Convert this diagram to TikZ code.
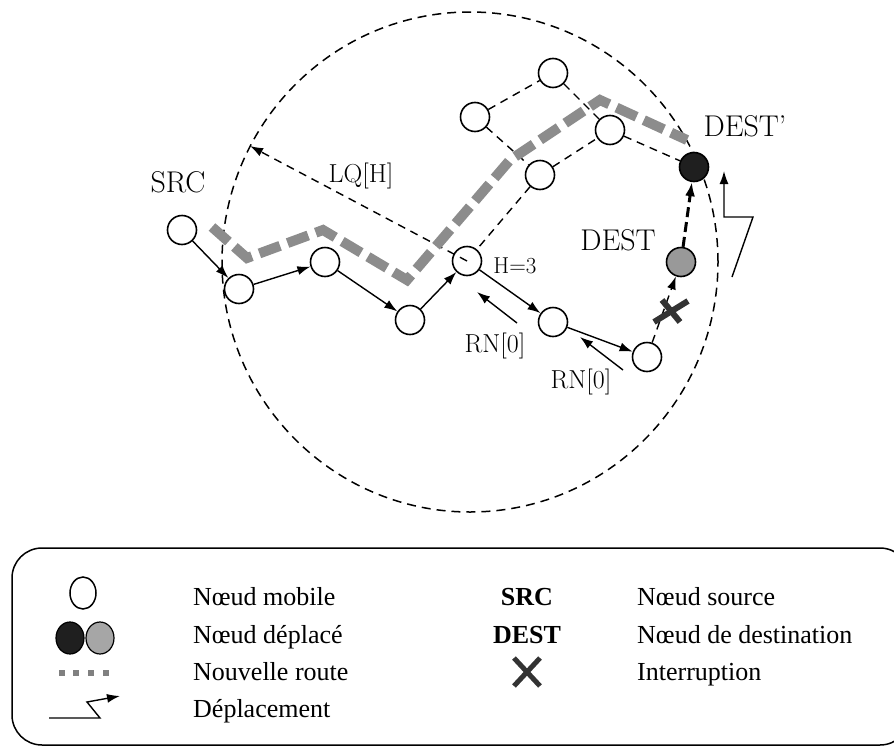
\documentclass[tikz,border=0pt]{standalone}
\usepackage{fontspec}
\newfontfamily\legendfont{Liberation Serif}
\usetikzlibrary{arrows.meta}
\begin{document}
\begin{tikzpicture}[x=1pt,y=-1pt,
  mnode/.style={circle, draw, line width=1.6pt, fill=white, minimum size=29pt, inner sep=0pt},
  movedblack/.style={mnode, fill=black!88},
  movedgray/.style={mnode, fill=black!40},
  routelink/.style={line width=1.4pt, -{Latex[length=13pt,width=9pt]}},
  hoplink/.style={line width=1.4pt, dash pattern=on 8pt off 6pt},
  rangeline/.style={line width=1.5pt, dash pattern=on 9pt off 6pt},
  newroute/.style={line width=10pt, draw=black!45, dash pattern=on 22pt off 8pt},
  bigtxt/.style={font=\fontsize{30}{36}\selectfont, inner sep=0pt},
  midtxt/.style={font=\fontsize{26}{31}\selectfont, inner sep=0pt},
  smalltxt/.style={font=\fontsize{23}{28}\selectfont, inner sep=0pt},
  legtxt/.style={font=\legendfont\fontsize{26}{31}\selectfont, anchor=base west, inner sep=0pt},
  legsym/.style={font=\legendfont\bfseries\fontsize{26}{31}\selectfont, anchor=base, inner sep=0pt},
  crossmark/.style={line width=6pt, draw=black!80},
  movearrow/.style={line width=1.4pt, -{Latex[length=13pt,width=9pt]}}
]
\useasboundingbox (0,0) rectangle (894,747);

% radio range
\draw[rangeline] (470,262) ellipse [x radius=248pt, y radius=250pt];

% mobile nodes
\node[mnode] (src) at (182,230) {};
\node[mnode] (a1) at (239,289) {};
\node[mnode] (a2) at (325,262) {};
\node[mnode] (a3) at (410,320) {};
\node[mnode] (h)  at (467,261) {};
\node[mnode] (a5) at (553,322) {};
\node[mnode] (a6) at (647,357) {};
\node[mnode] (u1) at (553,73) {};
\node[mnode] (u2) at (475,117) {};
\node[mnode] (u3) at (610,130) {};
\node[mnode] (u4) at (540,175) {};
\node[movedgray] (dest) at (681,262) {};
\node[movedblack] (destp) at (694,167) {};

% links towards the moved destination
\draw[hoplink] (u2) -- (u1);
\draw[hoplink] (u1) -- (u3);
\draw[hoplink] (u2) -- (u4);
\draw[hoplink] (u4) -- (u3);
\draw[hoplink] (u3) -- (destp);
\draw[hoplink] (u4) -- (h);

% local query
\coordinate (lqtip) at (250,146);
\draw[hoplink, -{Latex[length=13pt,width=9pt]}] (h.center) -- (lqtip);

% new route
\coordinate (r0) at (212,227);
\coordinate (r1) at (247,258);
\coordinate (r2) at (323,230);
\coordinate (r3) at (407,280);
\coordinate (r4) at (510,160);
\coordinate (r5) at (600,100);
\coordinate (r6) at (687,140);
\draw[newroute] (r0) -- (r1) -- (r2) -- (r3) -- (r4) -- (r5) -- (r6);

% original route
\draw[routelink] (src) -- (a1);
\draw[routelink] (a1) -- (a2);
\draw[routelink] (a2) -- (a3);
\draw[routelink] (a3) -- (h);
\draw[routelink] (h) -- (a5);
\draw[routelink] (a5) -- (a6);

% route notifications
\coordinate (rn1a) at (517,323);
\coordinate (rn1b) at (477,292);
\coordinate (rn2a) at (623,370);
\coordinate (rn2b) at (580,337);
\draw[routelink] (rn1a) -- (rn1b);
\draw[routelink] (rn2a) -- (rn2b);

% broken link and displacement of the destination
\draw[hoplink, -{Latex[length=13pt,width=9pt]}] (a6) -- (dest);
\coordinate (cut) at (671,311);
\draw[crossmark] ([shift={(-17,11)}]cut) -- ([shift={(17,-10)}]cut);
\draw[crossmark] ([shift={(-9,-11)}]cut) -- ([shift={(9,11)}]cut);
\draw[line width=3pt, dash pattern=on 10pt off 5pt, -{Latex[length=14pt,width=10pt]}] (dest) -- (destp);

% displacement symbol
\coordinate (mv0) at (732,277);
\coordinate (mv1) at (753,217);
\coordinate (mv2) at (724,217);
\coordinate (mv3) at (724,171);
\draw[movearrow] (mv0) -- (mv1) -- (mv2) -- (mv3);

% labels
\node[bigtxt] (lsrc) at (178,182) {SRC};
\node[bigtxt] (ldest) at (618,240) {DEST};
\node[bigtxt] (ldestp) at (745,126) {DEST'};
\node[midtxt] (llq) at (361,176) {LQ[H]};
\node[smalltxt] (lh) at (515,266) {H=3};
\node[midtxt] (lrn1) at (495,346) {RN[0]};
\node[midtxt] (lrn2) at (581,382) {RN[0]};

% legend
\draw[line width=1.5pt, rounded corners=30pt] (12,548) rectangle (910,745);
\draw[line width=1.5pt, fill=white] (83,593) ellipse [x radius=13pt, y radius=16pt];
\draw[line width=1.2pt, fill=black!88] (70,638) ellipse [x radius=14pt, y radius=16pt];
\draw[line width=1.2pt, fill=black!35] (100,638) ellipse [x radius=14pt, y radius=16pt];
\foreach \sx in {62,76,91,106} \fill[black!50] (\sx-3,670) rectangle (\sx+3,676);
\coordinate (lg0) at (49,718);
\coordinate (lg1) at (100,718);
\coordinate (lg2) at (87,702);
\coordinate (lg3) at (120,696);
\draw[movearrow] (lg0) -- (lg1) -- (lg2) -- (lg3);

\node[legtxt] (t1) at (193,605) {Nœud mobile};
\node[legtxt] (t2) at (193,643) {Nœud déplacé};
\node[legtxt] (t3) at (193,680) {Nouvelle route};
\node[legtxt] (t4) at (193,717) {Déplacement};
\node[legsym] (s1) at (527,605) {SRC};
\node[legsym] (s2) at (527,643) {DEST};
\coordinate (lx) at (527,672);
\draw[crossmark, line width=5pt] ([shift={(-13,-14)}]lx) -- ([shift={(13,14)}]lx);
\draw[crossmark, line width=5pt] ([shift={(-13,14)}]lx) -- ([shift={(13,-14)}]lx);
\node[legtxt] (t5) at (637,605) {Nœud source};
\node[legtxt] (t6) at (637,643) {Nœud de destination};
\node[legtxt] (t7) at (637,680) {Interruption};
\end{tikzpicture}
\end{document}
